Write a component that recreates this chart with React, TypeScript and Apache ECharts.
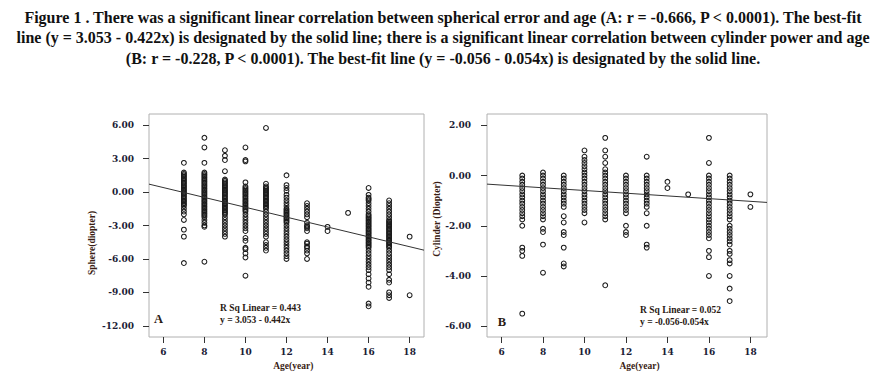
import React, { useEffect, useRef } from "react";
import * as echarts from "echarts";

const titleLines = [
  "Figure 1 . There was a significant linear correlation between spherical error and age (A: r = -0.666, P < 0.0001). The best-fit",
  "line (y = 3.053 - 0.422x) is designated by the solid line; there is a significant linear correlation between cylinder power and age",
  "(B: r = -0.228, P < 0.0001). The best-fit line (y = -0.056 - 0.054x) is designated by the solid line.",
];

const ages = [7, 8, 9, 10, 11, 12, 13, 14, 15, 16, 17, 18];
const ageTicks = [6, 8, 10, 12, 14, 16, 18];
const sphereTicks = [-12, -9, -6, -3, 0, 3, 6];
const cylinderTicks = [-6, -4, -2, 0, 2];

const sph7 = [2.62, 1.75, 1.62, 1.5, 1.37, 1.25, 1.12, 1.0, 0.87, 0.75, 0.62, 0.5, 0.37, 0.25, 0.12, 0, -0.12, -0.25, -0.37, -0.5, -0.62, -0.75, -0.87, -1.0, -1.12, -1.25, -1.5, -1.75, -2.0, -2.5, -3.37, -4.0, -6.37];
const sph8 = [4.87, 4.0, 2.62, 1.75, 1.62, 1.5, 1.37, 1.25, 1.12, 1.0, 0.87, 0.75, 0.62, 0.5, 0.37, 0.25, 0.12, 0, -0.12, -0.25, -0.37, -0.5, -0.62, -0.75, -0.87, -1.0, -1.12, -1.25, -1.37, -1.5, -1.62, -1.75, -1.87, -2.0, -2.12, -2.25, -2.5, -2.75, -3.0, -3.12, -6.25];
const sph9 = [3.75, 3.25, 2.87, 1.87, 1.12, 1.0, 0.87, 0.75, 0.62, 0.5, 0.37, 0.25, 0.12, 0, -0.12, -0.25, -0.37, -0.5, -0.62, -0.75, -0.87, -1.0, -1.12, -1.25, -1.37, -1.5, -1.62, -1.75, -1.87, -2.0, -2.25, -2.5, -2.75, -3.0, -3.25, -3.5, -3.75, -4.0];
const sph10 = [4.0, 2.87, 2.75, 0.87, 0.5, 0.37, 0.25, 0.12, 0, -0.12, -0.25, -0.37, -0.5, -0.62, -0.75, -0.87, -1.0, -1.12, -1.25, -1.37, -1.5, -1.62, -1.75, -2.0, -2.25, -2.5, -2.75, -3.0, -3.25, -3.5, -4.12, -4.37, -5.0, -5.12, -5.5, -5.87, -7.5];
const sph11 = [5.75, 0.75, 0.5, 0.37, 0.25, 0.12, 0, -0.12, -0.25, -0.37, -0.5, -0.62, -0.75, -0.87, -1.0, -1.12, -1.25, -1.37, -1.5, -1.75, -2.0, -2.25, -2.5, -2.75, -3.0, -3.25, -3.5, -3.75, -4.0, -4.5, -4.75, -5.0, -5.25];
const sph12 = [1.5, 0.62, 0.37, 0.12, -0.25, -0.5, -0.75, -1.0, -1.25, -1.5, -1.62, -1.75, -1.87, -2.0, -2.12, -2.25, -2.37, -2.5, -2.62, -2.75, -3.0, -3.25, -3.5, -3.75, -4.0, -4.25, -4.5, -4.75, -5.0, -5.25, -5.5, -5.75, -6.0];
const sph13 = [-1.0, -1.25, -1.5, -1.75, -2.0, -2.25, -2.75, -3.0, -3.12, -3.25, -3.5, -4.5, -4.62, -4.87, -5.0, -5.25, -5.5, -6.0];
const sph14 = [-3.12, -3.5];
const sph15 = [-1.87];
const sph16 = [0.37, -0.25, -0.5, -0.62, -0.75, -1.0, -1.25, -1.5, -1.75, -2.0, -2.12, -2.25, -2.37, -2.5, -2.62, -2.75, -2.87, -3.0, -3.12, -3.25, -3.37, -3.5, -3.62, -3.75, -3.87, -4.0, -4.12, -4.25, -4.37, -4.5, -4.62, -4.75, -4.87, -5.0, -5.25, -5.5, -5.75, -6.0, -6.25, -6.5, -6.75, -7.0, -7.37, -7.75, -8.12, -8.5, -10.0, -10.25];
const sph17 = [-0.75, -1.0, -1.25, -1.5, -1.75, -2.0, -2.25, -2.5, -2.62, -2.75, -2.87, -3.0, -3.12, -3.25, -3.37, -3.5, -3.62, -3.75, -3.87, -4.0, -4.12, -4.25, -4.37, -4.5, -4.62, -4.75, -4.87, -5.0, -5.25, -5.5, -5.75, -6.0, -6.25, -6.5, -6.75, -7.0, -7.37, -7.87, -8.12, -9.0, -9.25, -9.5];
const sph18 = [-4.0, -9.25];
const sphereByAge = [sph7, sph8, sph9, sph10, sph11, sph12, sph13, sph14, sph15, sph16, sph17, sph18];

const cyl7 = [0, -0.12, -0.25, -0.37, -0.5, -0.62, -0.75, -0.87, -1.0, -1.12, -1.25, -1.37, -1.5, -1.62, -1.75, -2.0, -2.87, -3.0, -3.2, -5.5];
const cyl8 = [0.12, 0, -0.12, -0.25, -0.37, -0.5, -0.62, -0.75, -0.87, -1.0, -1.12, -1.25, -1.37, -1.5, -1.62, -1.75, -2.12, -2.25, -2.75, -3.87];
const cyl9 = [0, -0.12, -0.25, -0.37, -0.5, -0.62, -0.75, -0.87, -1.0, -1.12, -1.25, -1.62, -1.87, -2.25, -2.37, -2.87, -3.5, -3.62];
const cyl10 = [1.0, 0.75, 0.62, 0.5, 0.37, 0.25, 0.12, 0, -0.12, -0.25, -0.37, -0.5, -0.62, -0.75, -0.87, -1.0, -1.12, -1.25, -1.37, -1.5, -1.87];
const cyl11 = [1.5, 1.0, 0.75, 0.5, 0.25, 0.12, 0, -0.12, -0.25, -0.37, -0.5, -0.62, -0.75, -0.87, -1.0, -1.12, -1.25, -1.37, -1.5, -1.62, -1.75, -4.37];
const cyl12 = [0, -0.12, -0.25, -0.37, -0.5, -0.62, -0.75, -0.87, -1.0, -1.12, -1.25, -1.37, -1.5, -2.0, -2.25, -2.37];
const cyl13 = [0.75, 0, -0.12, -0.25, -0.37, -0.5, -0.62, -0.75, -0.87, -1.0, -1.12, -1.25, -1.5, -2.0, -2.75, -2.87];
const cyl14 = [-0.25, -0.5];
const cyl15 = [-0.75];
const cyl16 = [1.5, 0.5, 0, -0.12, -0.25, -0.37, -0.5, -0.62, -0.75, -0.87, -1.0, -1.12, -1.25, -1.37, -1.5, -1.62, -1.75, -1.87, -2.0, -2.12, -2.25, -2.37, -2.5, -3.0, -3.25, -4.0];
const cyl17 = [0, -0.12, -0.25, -0.37, -0.5, -0.62, -0.75, -0.87, -1.0, -1.12, -1.25, -1.37, -1.5, -1.62, -1.75, -2.0, -2.12, -2.25, -2.37, -2.5, -2.62, -2.75, -3.0, -3.12, -3.37, -3.5, -4.0, -4.5, -5.0];
const cyl18 = [-0.75, -1.25];
const cylinderByAge = [cyl7, cyl8, cyl9, cyl10, cyl11, cyl12, cyl13, cyl14, cyl15, cyl16, cyl17, cyl18];

// regression: [intercept, slope]
const sphereFit = [3.053, -0.442];
const cylinderFit = [-0.056, -0.054];

const annotationsA = ["R Sq Linear = 0.443", "y = 3.053 - 0.442x"];
const annotationsB = ["R Sq Linear = 0.052", "y = -0.056-0.054x"];

const SERIF = "'Liberation Serif', 'Times New Roman', serif";
const TICK_FONT = "'DejaVu Serif', serif";
const TICK_COLOR = "#1c1c36";
const NAME_COLOR = "#3a1d14";

export default function App() {
  const ref = useRef<HTMLDivElement>(null);

  useEffect(() => {
    if (!ref.current) return;
    const chart = echarts.init(ref.current, undefined, { renderer: "svg" });

    const sphereData = ages.flatMap((a, i) => sphereByAge[i].map((v) => [a, v]));
    const cylinderData = ages.flatMap((a, i) => cylinderByAge[i].map((v) => [a, v]));

    const xRangeA = [5.3, 18.7];
    const xRangeB = [5.3, 18.8];
    const fitLine = (fit: number[], range: number[]) => range.map((x) => [x, fit[0] + fit[1] * x]);

    const mkX = (gridIndex: number, range: number[]) => ({
      gridIndex,
      type: "value",
      min: range[0],
      max: range[1],
      splitLine: { show: false },
      axisLine: { show: false, onZero: false },
      axisTick: { show: true, customValues: ageTicks, length: 6, lineStyle: { color: "#333", width: 1 } },
      axisLabel: {
        customValues: ageTicks,
        margin: 10,
        fontFamily: TICK_FONT,
        fontWeight: "bold",
        fontSize: 9,
        color: TICK_COLOR,
      },
    });
    const mkY = (gridIndex: number, min: number, max: number, ticks: number[], margin: number) => ({
      gridIndex,
      type: "value",
      min,
      max,
      splitLine: { show: false },
      axisLine: { show: false, onZero: false },
      axisTick: { show: true, customValues: ticks, length: 6, lineStyle: { color: "#333", width: 1 } },
      axisLabel: {
        customValues: ticks,
        margin,
        formatter: (v: number) => v.toFixed(2),
        fontFamily: TICK_FONT,
        fontWeight: "bold",
        fontSize: 9,
        color: TICK_COLOR,
      },
    });

    const scatterStyle = {
      symbol: "circle",
      symbolSize: 4.8,
      itemStyle: { color: "rgba(255,255,255,0)", borderColor: "#1a1a1a", borderWidth: 1.05, opacity: 1 },
      silent: true,
    };

    const text = (x: number, y: number, t: string, o: any = {}) => ({
      type: "text",
      x,
      y,
      rotation: o.rotation || 0,
      silent: true,
      style: {
        text: t,
        fontFamily: o.fontFamily || SERIF,
        fontWeight: "bold",
        fontSize: o.fontSize || 9.5,
        fill: o.fill || "#222",
        align: o.align || "left",
        verticalAlign: "middle",
      },
    });

    const graphics: any[] = [];
    const titleY = [17, 37.5, 58];
    titleLines.forEach((t, i) => graphics.push(text(443, titleY[i], t, { align: "center", fontSize: 16, fill: "#111" })));
    annotationsA.forEach((t, i) => graphics.push(text(220, 308.3 + i * 11.5, t, { fill: "#2a1a14" })));
    annotationsB.forEach((t, i) => graphics.push(text(640, 310.3 + i * 11.5, t, { fill: "#2a1a14" })));
    graphics.push(text(154, 319.3, "A", { fontSize: 12.5, fill: "#2a1a14" }));
    graphics.push(text(497.7, 321.5, "B", { fontSize: 12.5, fill: "#2a1a14" }));
    graphics.push(text(293.3, 365.7, "Age(year)", { align: "center", fill: NAME_COLOR }));
    graphics.push(text(639.5, 365.7, "Age(year)", { align: "center", fill: NAME_COLOR }));
    graphics.push(text(92, 243, "Sphere(diopter)", { align: "center", rotation: Math.PI / 2, fill: NAME_COLOR }));
    graphics.push(text(437, 219, "Cylinder (Diopter)", { align: "center", rotation: Math.PI / 2, fill: NAME_COLOR }));

    chart.setOption({
      animation: false,
      backgroundColor: "#ffffff",
      grid: [
        { left: 149, top: 114, width: 275, height: 223, show: true, borderColor: "#b0b0b0", borderWidth: 1, backgroundColor: "transparent" },
        { left: 487, top: 114, width: 280, height: 223, show: true, borderColor: "#b0b0b0", borderWidth: 1, backgroundColor: "transparent" },
      ],
      xAxis: [mkX(0, xRangeA), mkX(1, xRangeB)],
      yAxis: [mkY(0, -13, 7, sphereTicks, 15), mkY(1, -6.43, 2.45, cylinderTicks, 16)],
      series: [
        { type: "scatter", xAxisIndex: 0, yAxisIndex: 0, data: sphereData, ...scatterStyle },
        { type: "scatter", xAxisIndex: 1, yAxisIndex: 1, data: cylinderData, ...scatterStyle },
        {
          type: "line",
          xAxisIndex: 0,
          yAxisIndex: 0,
          data: fitLine(sphereFit, xRangeA),
          symbol: "none",
          lineStyle: { color: "#333", width: 1 },
          silent: true,
          z: 3,
        },
        {
          type: "line",
          xAxisIndex: 1,
          yAxisIndex: 1,
          data: fitLine(cylinderFit, xRangeB),
          symbol: "none",
          lineStyle: { color: "#333", width: 1 },
          silent: true,
          z: 3,
        },
      ],
      graphic: graphics,
    });

    return () => chart.dispose();
  }, []);

  return (
    <div
      ref={ref}
      style={{ position: "absolute", left: 0, top: 0, width: 877, height: 380, background: "#fff" }}
    />
  );
}
